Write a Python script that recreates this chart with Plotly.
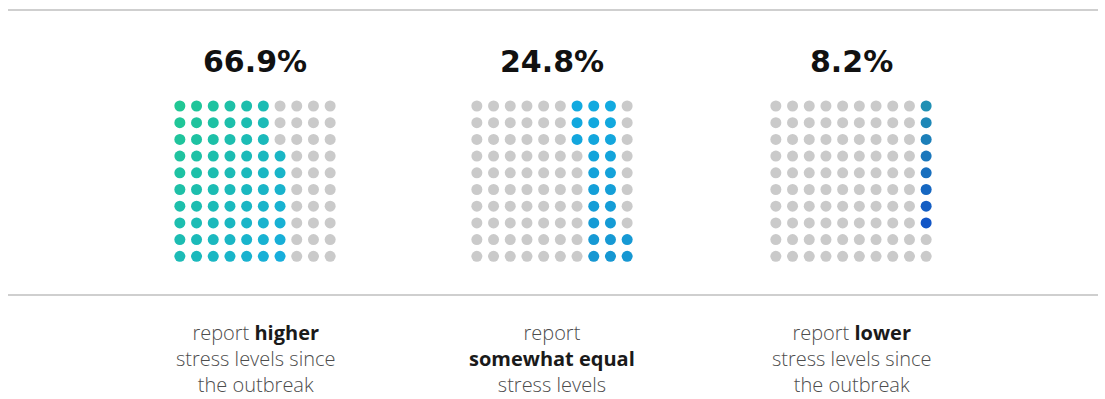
import plotly.graph_objects as go

# Share of respondents per stress-level category
shares = [66.9, 24.8, 8.2]
headlines = ["66.9%", "24.8%", "8.2%"]
captions = [
    ["report <b>higher</b>", "stress levels since", "the outbreak"],
    ["report", "<b>somewhat equal</b>", "stress levels"],
    ["report <b>lower</b>", "stress levels since", "the outbreak"],
]
# Gradient start/end colours of the highlighted dots in each panel
grad_start = ["#20c794", "#12aae0", "#2090b4"]
grad_end = ["#17aedc", "#1697d2", "#1256c6"]
GRAY = "#cacaca"

W, H = 1105, 399
panel_cx = [255, 552, 851]
grid_top = 106
step = 16.7
dot = 11
N = 10


def hex2rgb(h):
    h = h.lstrip("#")
    return tuple(int(h[i:i + 2], 16) for i in (0, 2, 4))


def mix(a, b, t):
    ra, rb = hex2rgb(a), hex2rgb(b)
    return "rgb({},{},{})".format(*[round(x + (y - x) * t) for x, y in zip(ra, rb)])


# Dots are filled column by column, bottom to top, continuing across the panels
cum = []
run = 0.0
for s in shares:
    run += s
    cum.append(round(run))
starts = [0] + cum[:-1]

fig = go.Figure()

for g in range(3):
    xs, ys, cols = [], [], []
    x0 = panel_cx[g] - step * (N - 1) / 2
    for k in range(N * N):
        c, r_bottom = divmod(k, N)
        r_top = N - 1 - r_bottom
        xs.append(x0 + c * step)
        ys.append(grid_top + r_top * step)
        if starts[g] <= k < cum[g]:
            if g == 0:
                t = (c + 0.6 * r_top) / (6 + 0.6 * 9)
            elif g == 1:
                t = r_top / 9
            else:
                t = r_top / 7
            cols.append(mix(grad_start[g], grad_end[g], min(max(t, 0), 1)))
        else:
            cols.append(GRAY)
    fig.add_trace(go.Scatter(
        x=xs, y=ys, mode="markers",
        marker=dict(size=dot, color=cols, line=dict(width=0)),
        hoverinfo="skip", showlegend=False,
    ))
    fig.add_annotation(
        x=panel_cx[g], y=61, text="<b>" + headlines[g] + "</b>",
        showarrow=False, xanchor="center", yanchor="middle",
        font=dict(family="DejaVu Sans", size=30, color="#111111"),
    )
    text = "<br>".join(
        line.replace("<b>", "<b><span style='color:#1a1a1a'>").replace("</b>", "</span></b>")
        for line in captions[g]
    )
    fig.add_annotation(
        x=panel_cx[g], y=358, text=text,
        showarrow=False, xanchor="center", yanchor="middle", align="center",
        font=dict(family="Open Sans", size=20, color="#4d4d4d", weight=300),
    )

for yl in (10, 295):
    fig.add_shape(type="line", x0=8, x1=1098, y0=yl, y1=yl,
                  line=dict(color="#cfcfcf", width=2))

fig.update_layout(
    width=W, height=H,
    margin=dict(l=0, r=0, t=0, b=0),
    paper_bgcolor="white", plot_bgcolor="white",
    xaxis=dict(range=[0, W], visible=False, fixedrange=True),
    yaxis=dict(range=[H, 0], visible=False, fixedrange=True),
)

fig.write_html("out.html", config={"displayModeBar": False})
